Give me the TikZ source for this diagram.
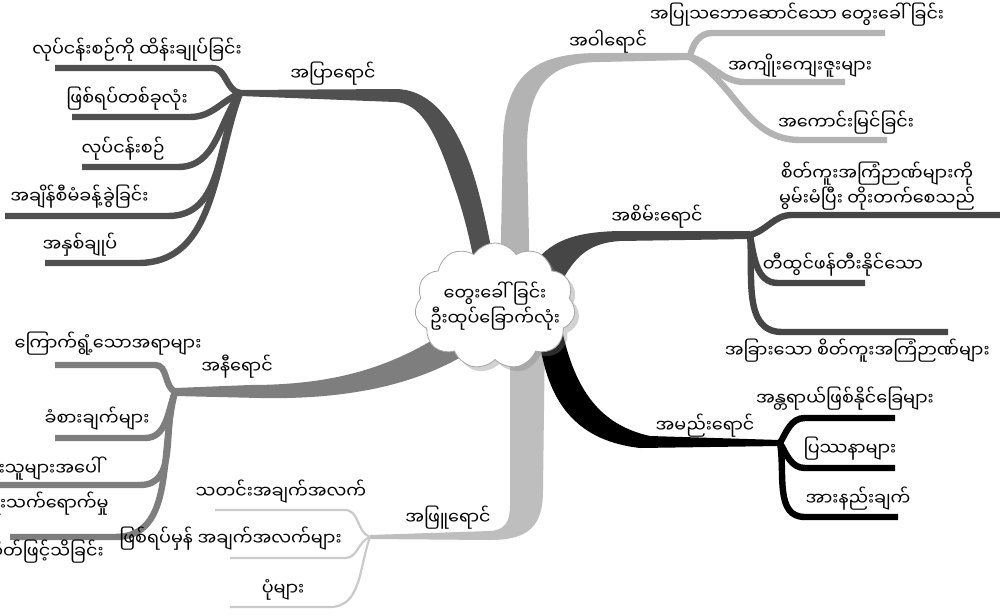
\documentclass[tikz,border=0pt]{standalone}
\usepackage{fontspec}
\newfontfamily\mmfont[Script=Myanmar]{Noto Sans Myanmar UI}
\usetikzlibrary{shapes.symbols,shadows}
\definecolor{blueclr}{HTML}{505050}
\definecolor{yellowclr}{HTML}{B3B3B3}
\definecolor{greenclr}{HTML}{464646}
\definecolor{redclr}{HTML}{7E7E7E}
\definecolor{whiteclr}{HTML}{BEBEBE}
\definecolor{whiteleaf}{HTML}{CACACA}
\begin{document}
\begin{tikzpicture}[x=0.5pt, y=-0.5pt,
    every node/.style={font=\mmfont\fontsize{8.8}{11}\selectfont, inner sep=1pt},
    leaf/.style={line width=3.2pt},
    thinleaf/.style={line width=1.1pt, draw=whiteleaf}]
    \useasboundingbox[fill=white] (0,0) rectangle (1000,615);

    % main bands
    \fill[blueclr] (240,90) -- (395,89) .. controls (430,89) and (455,120) .. (472,170)
        .. controls (482,200) and (490,240) .. (497,280) -- (478,285)
        .. controls (472,245) and (463,210) .. (452,180)
        .. controls (435,130) and (420,103) .. (395,102) -- (240,96) -- cycle;
    \fill[yellowclr] (690,53) -- (600,53) .. controls (540,53) and (505,70) .. (503,140)
        -- (500,285) -- (530,285) -- (527,150) .. controls (527,90) and (545,62) .. (600,62)
        -- (690,60) -- cycle;
    \fill[whiteclr] (510,330) -- (510,505) .. controls (510,522) and (505,530) .. (490,531)
        -- (370,535) -- (370,539) -- (490,540) .. controls (530,540) and (543,525) .. (543,490)
        -- (545,330) -- cycle;
    \fill[greenclr] (525,275) .. controls (545,245) and (565,232) .. (620,231) -- (750,231)
        -- (750,239) -- (620,241) .. controls (590,243) and (575,255) .. (560,285) -- cycle;
    \fill[black] (538,330) .. controls (545,395) and (570,440) .. (640,448) -- (780,446)
        -- (780,440) -- (650,436) .. controls (600,425) and (575,390) .. (562,330) -- cycle;
    \fill[redclr] (460,322) .. controls (400,365) and (340,385) .. (250,385) -- (175,388)
        -- (175,396) -- (260,398) .. controls (360,400) and (430,380) .. (480,345) -- cycle;

    % centre
    \node (hats) [cloud, cloud puffs=11, cloud puff arc=115, aspect=1.4, draw=gray!70,
        fill=white, drop shadow={opacity=0.35}, inner sep=-6pt,
        align=center] at (495,306) {တွေးခေါ်ခြင်း\\ဦးထုပ်ခြောက်လုံး};

    % hubs
    \coordinate (bluehub) at (240,93);
    \coordinate (yellowhub) at (690,57);
    \coordinate (greenhub) at (750,235);
    \coordinate (blackhub) at (780,443);
    \coordinate (redhub) at (175,392);
    \coordinate (whitehub) at (370,537);

    % colour labels
    \node (bluelbl) at (333,74) {အပြာရောင်};
    \node (yellowlbl) at (608,42) {အဝါရောင်};
    \node (greenlbl) at (657,217) {အစိမ်းရောင်};
    \node (blacklbl) at (705,426) {အမည်းရောင်};
    \node (redlbl) at (237,367) {အနီရောင်};
    \node (whitelbl) at (448,518) {အဖြူရောင်};

    % blue
    \coordinate (b1e) at (212,68); \coordinate (b1s) at (55,68);
    \coordinate (b2e) at (190,117); \coordinate (b2s) at (72,117);
    \coordinate (b3e) at (178,167); \coordinate (b3s) at (82,167);
    \coordinate (b4e) at (168,216); \coordinate (b4s) at (5,216);
    \coordinate (b5e) at (138,263); \coordinate (b5s) at (45,263);
    \draw[leaf, blueclr] (bluehub) to[out=170,in=0] (b1e) -- (b1s);
    \draw[leaf, blueclr] (bluehub) to[out=205,in=0] (b2e) -- (b2s);
    \draw[leaf, blueclr] (bluehub) to[out=235,in=0] (b3e) -- (b3s);
    \draw[leaf, blueclr] (bluehub) to[out=245,in=0] (b4e) -- (b4s);
    \draw[leaf, blueclr] (bluehub) to[out=250,in=0] (b5e) -- (b5s);
    \node (b1t) at (137,50) {လုပ်ငန်းစဉ်ကို ထိန်းချုပ်ခြင်း};
    \node (b2t) at (127,99) {ဖြစ်ရပ်တစ်ခုလုံး};
    \node (b3t) at (123,149) {လုပ်ငန်းစဉ်};
    \node (b4t) [anchor=west] at (8,197) {အချိန်စီမံခန့်ခွဲခြင်း};
    \node (b5t) at (80,245) {အနှစ်ချုပ်};

    % yellow
    \coordinate (y1e) at (712,33); \coordinate (y1s) at (885,33);
    \coordinate (y2e) at (745,82); \coordinate (y2s) at (845,82);
    \coordinate (y3e) at (800,140); \coordinate (y3s) at (887,140);
    \draw[leaf, yellowclr] (yellowhub) to[out=80,in=180] (y1e) -- (y1s);
    \draw[leaf, yellowclr] (yellowhub) to[out=-15,in=180] (y2e) -- (y2s);
    \draw[leaf, yellowclr] (yellowhub) to[out=-30,in=180] (y3e) -- (y3s);
    \node (y1t) at (797,15) {အပြုသဘောဆောင်သော တွေးခေါ်ခြင်း};
    \node (y2t) at (800,66) {အကျိုးကျေးဇူးများ};
    \node (y3t) at (846,123) {အကောင်းမြင်ခြင်း};

    % green
    \coordinate (g1e) at (792,215); \coordinate (g1s) at (1005,215);
    \coordinate (g2e) at (778,283); \coordinate (g2s) at (865,283);
    \coordinate (g3e) at (782,332); \coordinate (g3s) at (948,332);
    \draw[leaf, greenclr] (greenhub) to[out=15,in=180] (g1e) -- (g1s);
    \draw[leaf, greenclr] (greenhub) to[out=-80,in=180] (g2e) -- (g2s);
    \draw[leaf, greenclr] (greenhub) to[out=-85,in=180] (g3e) -- (g3s);
    \node (g1t) [align=center] at (877,186) {စိတ်ကူးအကြံဉာဏ်များကို\\မွမ်းမံပြီး တိုးတက်စေသည်};
    \node (g2t) at (843,265) {တီထွင်ဖန်တီးနိုင်သော};
    \node (g3t) [anchor=east] at (992,351) {အခြားသော စိတ်ကူးအကြံဉာဏ်များ};

    % black
    \coordinate (k1e) at (805,418); \coordinate (k1s) at (895,418);
    \coordinate (k2e) at (805,468); \coordinate (k2s) at (895,468);
    \coordinate (k3e) at (805,517); \coordinate (k3s) at (898,517);
    \draw[leaf, black] (blackhub) to[out=60,in=180] (k1e) -- (k1s);
    \draw[leaf, black] (blackhub) to[out=-60,in=180] (k2e) -- (k2s);
    \draw[leaf, black] (blackhub) to[out=-80,in=180] (k3e) -- (k3s);
    \node (k1t) at (845,399) {အန္တရာယ်ဖြစ်နိုင်ခြေများ};
    \node (k2t) at (850,449) {ပြဿနာများ};
    \node (k3t) at (858,499) {အားနည်းချက်};

    % red
    \coordinate (r1e) at (155,365); \coordinate (r1s) at (55,365);
    \coordinate (r2e) at (145,438); \coordinate (r2s) at (55,438);
    \coordinate (r3e) at (140,485); \coordinate (r3s) at (-5,485);
    \coordinate (r4e) at (115,537); \coordinate (r4s) at (10,537);
    \draw[leaf, redclr] (redhub) to[out=150,in=0] (r1e) -- (r1s);
    \draw[leaf, redclr] (redhub) to[out=250,in=0] (r2e) -- (r2s);
    \draw[leaf, redclr] (redhub) to[out=250,in=0] (r3e) -- (r3s);
    \draw[leaf, redclr] (redhub) to[out=255,in=0] (r4e) -- (r4s);
    \node (r1t) at (108,344) {ကြောက်ရွံ့သောအရာများ};
    \node (r2t) at (97,419) {ခံစားချက်များ};
    \node (r3t) [anchor=east] at (104,469) {အခြားသူများအပေါ်};
    \node (r4t) [anchor=east] at (111,504) {အကျိုးသက်ရောက်မှု};
    \node (r5t) [anchor=east] at (106,552) {ပင်ကိုယ်စိတ်ဖြင့်သိခြင်း};

    % white
    \coordinate (w1e) at (345,510); \coordinate (w1s) at (215,510);
    \coordinate (w2e) at (345,558); \coordinate (w2s) at (230,558);
    \coordinate (w3e) at (330,607); \coordinate (w3s) at (230,607);
    \draw[thinleaf] (whitehub) to[out=160,in=0] (w1e) -- (w1s);
    \draw[thinleaf] (whitehub) to[out=200,in=0] (w2e) -- (w2s);
    \draw[thinleaf] (whitehub) to[out=250,in=0] (w3e) -- (w3s);
    \node (w1t) at (281,492) {သတင်းအချက်အလက်};
    \node (w2t) [anchor=east] at (344,539) {ဖြစ်ရပ်မှန် အချက်အလက်များ};
    \node (w3t) at (283,590) {ပုံများ};
\end{tikzpicture}
\end{document}
